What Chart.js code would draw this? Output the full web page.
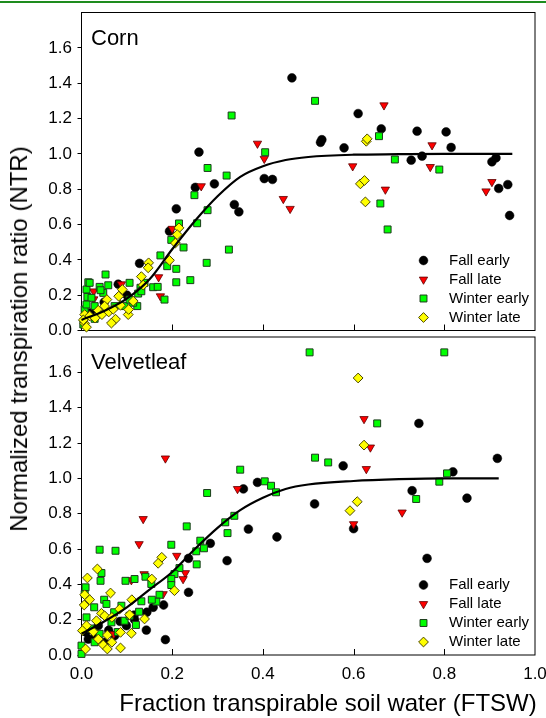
<!DOCTYPE html>
<html>
<head>
<meta charset="utf-8">
<script src="https://cdn.jsdelivr.net/npm/chart.js@4"></script>
<style>
html,body{margin:0;padding:0;background:#fff;}
#wrap{position:relative;width:546px;height:718px;overflow:hidden;background:#fff;font-family:"Liberation Sans",Arial,sans-serif;color:#000;}
#topline{position:absolute;left:0;top:1px;width:546px;height:2px;background:#1e8c1e;}
#c1{position:absolute;left:0;top:0;}
#c2{position:absolute;left:0;top:325px;}
#ytitle{position:absolute;left:19px;top:339px;transform:translate(-50%,-50%) rotate(-90deg);white-space:nowrap;font-size:24px;line-height:28px;}
#xtitle{position:absolute;left:328px;top:689px;transform:translateX(-50%);white-space:nowrap;font-size:24px;line-height:28px;}
</style>
</head>
<body>
<div id="wrap">
  <div id="topline"></div>
  <canvas id="c1" width="546" height="345"></canvas>
  <canvas id="c2" width="546" height="393"></canvas>
  <div id="ytitle">Normalized transpiration ratio (NTR)</div>
  <div id="xtitle">Fraction transpirable soil water (FTSW)</div>
</div>
<script>
// ---------------- DATA ----------------
const xTickValues = [0.0, 0.2, 0.4, 0.6, 0.8, 1.0];
const yTickValues = [0.0, 0.2, 0.4, 0.6, 0.8, 1.0, 1.2, 1.4, 1.6];
const seriesNames = ['Fall early', 'Fall late', 'Winter early', 'Winter late'];
const panelNames = ['Corn', 'Velvetleaf'];

// Corn panel
const cornFallEarly = [[0.464,1.43],[0.53,1.08],[0.527,1.065],[0.579,1.034],[0.259,1.01],[0.293,0.83],[0.251,0.81],[0.403,0.86],[0.421,0.855],[0.337,0.713],[0.347,0.672],[0.209,0.689],[0.194,0.562],[0.128,0.38],[0.081,0.262],[0.61,1.228],[0.661,1.141],[0.74,1.128],[0.804,1.124],[0.815,1.036],[0.727,0.964],[0.751,0.987],[0.905,0.955],[0.914,0.977],[0.92,0.804],[0.94,0.826],[0.944,0.651],[0.02,0.1],[0.05,0.16],[0.1,0.2]];
const cornFallLate = [[0.388,1.058],[0.403,0.972],[0.264,0.817],[0.445,0.745],[0.46,0.689],[0.2,0.576],[0.667,1.275],[0.598,0.93],[0.773,1.049],[0.769,0.926],[0.67,0.798],[0.905,0.841],[0.892,0.788],[0.17,0.302],[0.174,0.194],[0.027,0.222],[0.027,0.177],[0.088,0.262]];
const cornWinterEarly = [[0.331,1.217],[0.515,1.30],[0.405,1.009],[0.278,0.92],[0.32,0.877],[0.249,0.766],[0.278,0.681],[0.255,0.607],[0.215,0.606],[0.325,0.458],[0.225,0.47],[0.198,0.513],[0.656,1.10],[0.691,0.968],[0.789,0.911],[0.659,0.719],[0.675,0.572],[0.209,0.349],[0.209,0.273],[0.24,0.285],[0.276,0.383],[0.183,0.175],[0.174,0.425],[0.189,0.364],[0.158,0.245],[0.168,0.247],[0.123,0.138],[0.114,0.157],[0.139,0.27],[0.053,0.317],[0.04,0.247],[0.015,0.273],[0.011,0.232],[0.013,0.19],[0.059,0.256],[0.048,0.213],[0.007,0.119],[0.029,0.138],[0.029,0.066],[0.073,0.138],[0.095,0.138],[0.106,0.175],[0.13,0.242],[0.125,0.209],[0.004,0.034],[0.018,0.27],[0.132,0.222],[0.106,0.27],[0.042,0.228],[0.022,0.185],[0.011,0.147]];
const cornWinterLate = [[0.215,0.581],[0.211,0.543],[0.207,0.495],[0.628,1.071],[0.63,1.085],[0.615,0.83],[0.624,0.849],[0.626,0.728],[0.194,0.397],[0.148,0.383],[0.147,0.355],[0.132,0.305],[0.136,0.257],[0.09,0.232],[0.082,0.194],[0.056,0.175],[0.086,0.143],[0.103,0.09],[0.114,0.166],[0.075,0.064],[0.066,0.042],[0.007,0.04],[0.011,0.019],[0.007,0.09],[0.018,0.082],[0.037,0.114],[0.051,0.138],[0.03,0.07],[0.045,0.09],[0.06,0.105],[0.07,0.12],[0.104,0.119],[0.004,0.06]];
const cornCurveX = [0.0, 0.05, 0.1, 0.15, 0.2, 0.25, 0.3, 0.35, 0.4, 0.45, 0.5, 0.6, 0.7, 0.8, 0.95];
const cornCurveY = [0.06, 0.11, 0.18, 0.29, 0.46, 0.62, 0.76, 0.87, 0.93, 0.965, 0.982, 0.995, 0.998, 1.0, 1.0];

// Velvetleaf panel
const velvFallEarly = [[0.357,0.94],[0.388,0.977],[0.368,0.713],[0.431,0.668],[0.321,0.534],[0.284,0.632],[0.236,0.547],[0.236,0.355],[0.181,0.283],[0.158,0.27],[0.144,0.242],[0.143,0.141],[0.185,0.087],[0.116,0.226],[0.514,0.855],[0.577,1.071],[0.60,0.715],[0.729,0.93],[0.819,1.037],[0.85,0.888],[0.762,0.547],[0.917,1.113],[0.744,1.311],[0.099,0.166],[0.073,0.109],[0.051,0.072],[0.015,0.09],[0.117,0.2],[0.037,0.166],[0.01,0.13],[0.06,0.14],[0.085,0.19],[0.03,0.11]];
const velvFallLate = [[0.185,1.113],[0.136,0.77],[0.127,0.628],[0.344,0.94],[0.21,0.562],[0.229,0.464],[0.224,0.43],[0.18,0.345],[0.138,0.458],[0.11,0.424],[0.60,0.741],[0.071,0.119],[0.623,1.336],[0.637,1.175],[0.628,1.053],[0.707,0.807]];
const velvWinterEarly = [[0.503,1.713],[0.80,1.713],[0.652,1.311],[0.515,1.117],[0.544,1.09],[0.806,1.028],[0.789,0.981],[0.738,0.883],[0.35,1.049],[0.404,0.983],[0.418,0.958],[0.429,0.921],[0.277,0.917],[0.337,0.788],[0.317,0.751],[0.322,0.69],[0.232,0.728],[0.262,0.647],[0.27,0.604],[0.253,0.587],[0.254,0.513],[0.198,0.624],[0.216,0.492],[0.205,0.458],[0.198,0.43],[0.198,0.396],[0.04,0.596],[0.075,0.59],[0.097,0.42],[0.117,0.43],[0.141,0.443],[0.154,0.402],[0.044,0.464],[0.042,0.42],[0.172,0.341],[0.165,0.302],[0.155,0.313],[0.132,0.304],[0.127,0.245],[0.05,0.313],[0.028,0.27],[0.009,0.383],[0.007,0.345],[0.011,0.213],[0.0,0.006],[0.0,0.053],[0.029,0.072],[0.095,0.194],[0.106,0.222],[0.072,0.242],[0.066,0.185],[0.055,0.289],[0.088,0.279],[0.02,0.15],[0.04,0.12],[0.08,0.13],[0.12,0.17]];
const velvWinterLate = [[0.61,1.568],[0.623,1.188],[0.592,0.817],[0.608,0.868],[0.177,0.553],[0.169,0.519],[0.155,0.43],[0.205,0.364],[0.064,0.351],[0.035,0.487],[0.013,0.436],[0.007,0.341],[0.018,0.313],[0.006,0.283],[0.011,0.166],[0.009,0.034],[0.033,0.194],[0.044,0.236],[0.051,0.222],[0.026,0.132],[0.037,0.09],[0.057,0.113],[0.067,0.072],[0.048,0.057],[0.057,0.034],[0.086,0.04],[0.086,0.128],[0.067,0.213],[0.084,0.26],[0.106,0.228],[0.111,0.313],[0.139,0.204],[0.11,0.123],[0.002,0.138]];
const velvCurveX = [0.0, 0.05, 0.1, 0.15, 0.2, 0.25, 0.3, 0.35, 0.4, 0.45, 0.5, 0.6, 0.7, 0.8, 0.92];
const velvCurveY = [0.12, 0.19, 0.27, 0.37, 0.47, 0.6, 0.72, 0.82, 0.89, 0.94, 0.965, 0.985, 0.995, 1.0, 1.0];

// ---------------- STYLE ----------------
const FONT = "'Liberation Sans', Arial, sans-serif";
Chart.defaults.font.family = FONT;
Chart.defaults.color = '#000';

const markerStyles = [
  {pointStyle:'circle',   radius:4.4, rotation:0,   bg:'#000000', border:'#000000', bw:0.5},
  {pointStyle:'triangle', radius:4.8, rotation:180, bg:'#ff0000', border:'#5a0000', bw:0.8},
  {pointStyle:'rect',     radius:4.9, rotation:0,   bg:'#00ff00', border:'#1c3a1c', bw:1},
  {pointStyle:'rectRot',  radius:4.9, rotation:0,   bg:'#ffff00', border:'#4a4500', bw:1}
];

const toXY = arr => arr.map(p => ({x: p[0], y: p[1]}));
const curveXY = (xs, ys) => xs.map((x, i) => ({x: x, y: ys[i]}));

function drawMarker(ctx, st, x, y) {
  const r = st.radius;
  ctx.save();
  ctx.fillStyle = st.bg; ctx.strokeStyle = st.border; ctx.lineWidth = st.bw;
  ctx.beginPath();
  if (st.pointStyle === 'circle') {
    ctx.arc(x, y, r, 0, Math.PI * 2);
  } else if (st.pointStyle === 'triangle') {
    const s = Math.sin(Math.PI / 3) * r;
    ctx.moveTo(x, y + r); ctx.lineTo(x - s, y - r / 2); ctx.lineTo(x + s, y - r / 2);
  } else if (st.pointStyle === 'rect') {
    const h = Math.SQRT1_2 * r;
    ctx.rect(x - h, y - h, 2 * h, 2 * h);
  } else {
    ctx.moveTo(x - r, y); ctx.lineTo(x, y - r); ctx.lineTo(x + r, y); ctx.lineTo(x, y + r);
  }
  ctx.closePath();
  ctx.fill(); ctx.stroke();
  ctx.restore();
}

const decorPlugin = {
  id: 'decor',
  beforeDatasetsDraw(chart) {
    const {ctx, chartArea: a, scales} = chart;
    ctx.save();
    ctx.strokeStyle = '#000'; ctx.lineWidth = 1;
    ctx.strokeRect(a.left, a.top, a.right - a.left, a.bottom - a.top);
    ctx.beginPath();
    xTickValues.forEach(v => {
      const px = Math.round(scales.x.getPixelForValue(v)) + 0.5;
      if (px > a.left + 2 && px < a.right - 2) {
        ctx.moveTo(px, a.bottom); ctx.lineTo(px, a.bottom - 6);
      }
    });
    ctx.stroke();
    ctx.restore();
  },
  afterDraw(chart, args, opts) {
    const {ctx, chartArea: a} = chart;
    ctx.save();
    ctx.fillStyle = '#000';
    ctx.font = '22px ' + FONT;
    ctx.textBaseline = 'alphabetic';
    ctx.textAlign = 'left';
    ctx.fillText(opts.panelName, a.left + 9.5, a.top + 32);
    ctx.font = '15px ' + FONT;
    ctx.textBaseline = 'middle';
    seriesNames.forEach((name, i) => {
      const y = a.bottom - 70 + i * 19;
      drawMarker(ctx, markerStyles[i], 423.5, y);
      ctx.fillStyle = '#000';
      ctx.fillText(name, 449, y);
    });
    ctx.restore();
  }
};

function makePanel(canvasId, name, series, curve, isBottom) {
  const datasets = [{
    type: 'line', label: 'fit', data: curve, showLine: true,
    borderColor: '#000', borderWidth: 2.2, pointRadius: 0, fill: false,
    cubicInterpolationMode: 'monotone', order: 0, clip: false
  }];
  series.forEach((s, i) => {
    const st = markerStyles[i];
    datasets.push({
      type: 'scatter', label: seriesNames[i], data: s,
      pointStyle: st.pointStyle, pointRadius: st.radius, pointRotation: st.rotation,
      backgroundColor: st.bg, borderColor: st.border, borderWidth: st.bw,
      order: 4 - i, clip: false
    });
  });
  return new Chart(document.getElementById(canvasId), {
    type: 'scatter',
    data: {datasets},
    options: {
      responsive: false, animation: false, events: [],
      layout: {padding: isBottom ? {left: 0, right: 11, top: 12, bottom: 0} : {left: 0, right: 11, top: 12.5, bottom: 14.5}},
      plugins: {legend: {display: false}, tooltip: {enabled: false}, decor: {panelName: name}},
      scales: {
        x: {
          type: 'linear', min: 0, max: 1, display: isBottom,
          afterBuildTicks: sc => { sc.ticks = xTickValues.map(v => ({value: v})); },
          afterFit: sc => { sc.height = isBottom ? 63 : 0; sc.paddingLeft = 0; sc.paddingRight = 0; },
          grid: {display: false, drawTicks: false},
          border: {display: false},
          ticks: {font: {size: 17}, padding: 9, callback: v => Number(v).toFixed(1), maxRotation: 0, autoSkip: false}
        },
        y: {
          type: 'linear', min: 0, max: 1.8,
          afterBuildTicks: sc => { sc.ticks = yTickValues.map(v => ({value: v})); },
          afterFit: sc => { sc.width = 81.5; sc.paddingTop = 0; sc.paddingBottom = 0; },
          grid: {display: true, drawOnChartArea: false, drawTicks: true, tickLength: 4, color: '#000', lineWidth: 1},
          border: {display: false},
          ticks: {font: {size: 17}, padding: 5.5, callback: v => Number(v).toFixed(1), autoSkip: false}
        }
      }
    },
    plugins: [decorPlugin]
  });
}

makePanel('c1', panelNames[0],
  [toXY(cornFallEarly), toXY(cornFallLate), toXY(cornWinterEarly), toXY(cornWinterLate)],
  curveXY(cornCurveX, cornCurveY), false);
makePanel('c2', panelNames[1],
  [toXY(velvFallEarly), toXY(velvFallLate), toXY(velvWinterEarly), toXY(velvWinterLate)],
  curveXY(velvCurveX, velvCurveY), true);
</script>
</body>
</html>
